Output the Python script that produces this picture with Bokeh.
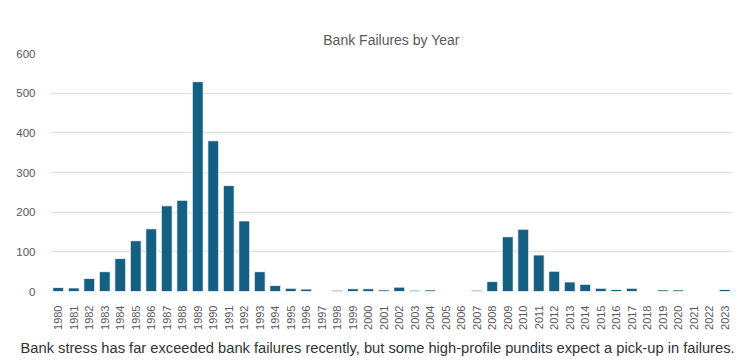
from bokeh.plotting import figure
from bokeh.models import Range1d, FactorRange, FixedTicker, Title, ColumnDataSource
from bokeh.embed import file_html
from bokeh.resources import INLINE
from math import pi

years = [str(y) for y in range(1980, 2024)]
failures = [10, 9, 33, 50, 83, 128, 158, 216, 230, 529,
            380, 267, 178, 50, 15, 8, 6, 0, 3, 7,
            7, 4, 11, 3, 4, 0, 0, 3, 25, 138,
            157, 92, 51, 24, 18, 8, 5, 8, 0, 4,
            4, 0, 0, 5]
y_ticks = [0, 100, 200, 300, 400, 500, 600]
title_text = "Bank Failures by Year"
caption_text = ("Bank stress has far exceeded bank failures recently, "
                "but some high-profile pundits expect a pick-up in failures.")

src = ColumnDataSource(data=dict(year=years, failures=failures))

p = figure(width=745, height=363, output_backend="svg", toolbar_location=None,
           x_range=FactorRange(*years, range_padding=0),
           y_range=Range1d(0, 600),
           min_border_left=50, min_border_right=13,
           min_border_top=53, min_border_bottom=72)
p.outline_line_color = None
p.background_fill_color = "white"
p.border_fill_color = "white"

p.vbar(x="year", top="failures", width=0.7, source=src,
       fill_color="#156082", line_color="#ffffff", line_width=0.8)

p.xgrid.grid_line_color = None
p.ygrid.grid_line_color = "#e3e3e3"
p.ygrid.grid_line_width = 1.5
p.yaxis.ticker = FixedTicker(ticks=y_ticks)

for ax in (p.xaxis, p.yaxis):
    ax.axis_line_color = None
    ax.major_tick_line_color = None
    ax.minor_tick_line_color = None
    ax.major_label_text_font = "Liberation Sans"
    ax.major_label_text_font_size = "11.5px"
    ax.major_label_text_color = "#595959"

p.yaxis.major_label_standoff = 9
p.xaxis.major_label_standoff = 8
p.xaxis.major_label_orientation = pi / 2
p.xaxis.major_label_text_font_size = "11px"

p.title.text = title_text
p.title.align = "center"
p.title.offset = -12
p.title.standoff = 12
p.title.text_font = "Liberation Sans"
p.title.text_font_size = "14px"
p.title.text_font_style = "normal"
p.title.text_color = "#595959"

cap = Title(text=caption_text, align="left", offset=-30, standoff=11,
            text_font="Liberation Sans", text_font_size="14.7px",
            text_font_style="normal", text_color="#333333")
p.add_layout(cap, "below")

open("out.html", "w").write(file_html(p, INLINE))
